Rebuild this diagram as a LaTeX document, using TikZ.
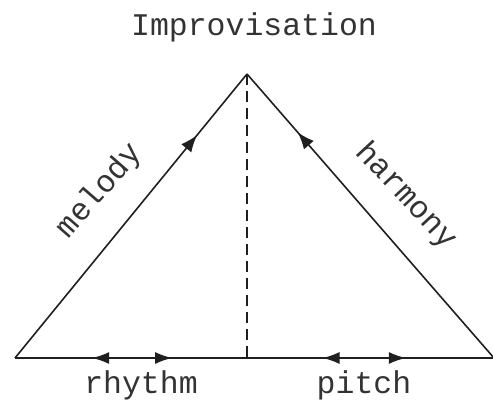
\documentclass[tikz,border=0pt]{standalone}
\usepackage{fontspec}
\setmonofont{Liberation Mono}
\usetikzlibrary{arrows.meta,decorations.markings}
\begin{document}
\begin{tikzpicture}[x=1pt,y=-1pt,
  lbl/.style={font=\ttfamily\fontsize{31.5}{31.5}\selectfont, text=black!80, inner sep=0pt},
  edge/.style={line width=1.6pt, draw=black!88},
  dashline/.style={line width=1.8pt, draw=black!88, dash pattern=on 11pt off 6pt}]
\useasboundingbox (0,0) rectangle (493,401);
\coordinate (A) at (247,74);
\coordinate (L) at (15,358);
\coordinate (R) at (494,358);
\coordinate (B) at (247,358);
\draw[edge, postaction={decorate}, decoration={markings, mark=at position 0.785 with {\arrow{Latex[length=17pt,width=13pt]}}}] (L) -- (A);
\draw[edge, postaction={decorate}, decoration={markings, mark=at position 0.795 with {\arrow{Latex[length=17pt,width=13pt]}}}] (R) -- (A);
\draw[edge, postaction={decorate}, decoration={markings,
  mark=at position 0.161 with {\arrowreversed{Latex[length=17pt,width=12pt]}},
  mark=at position 0.328 with {\arrow{Latex[length=17pt,width=12pt]}},
  mark=at position 0.642 with {\arrowreversed{Latex[length=17pt,width=12pt]}},
  mark=at position 0.816 with {\arrow{Latex[length=17pt,width=12pt]}}}] (L) -- (R);
\draw[dashline] (A) -- (B);
\node[lbl] (title) at (254,27) {Improvisation};
\node[lbl, rotate=49] (mel) at (100,191) {melody};
\node[lbl, rotate=-47] (har) at (406,196) {harmony};
\node[lbl] (rhy) at (141,385) {rhythm};
\node[lbl] (pit) at (364,385) {pitch};
\end{tikzpicture}
\end{document}
